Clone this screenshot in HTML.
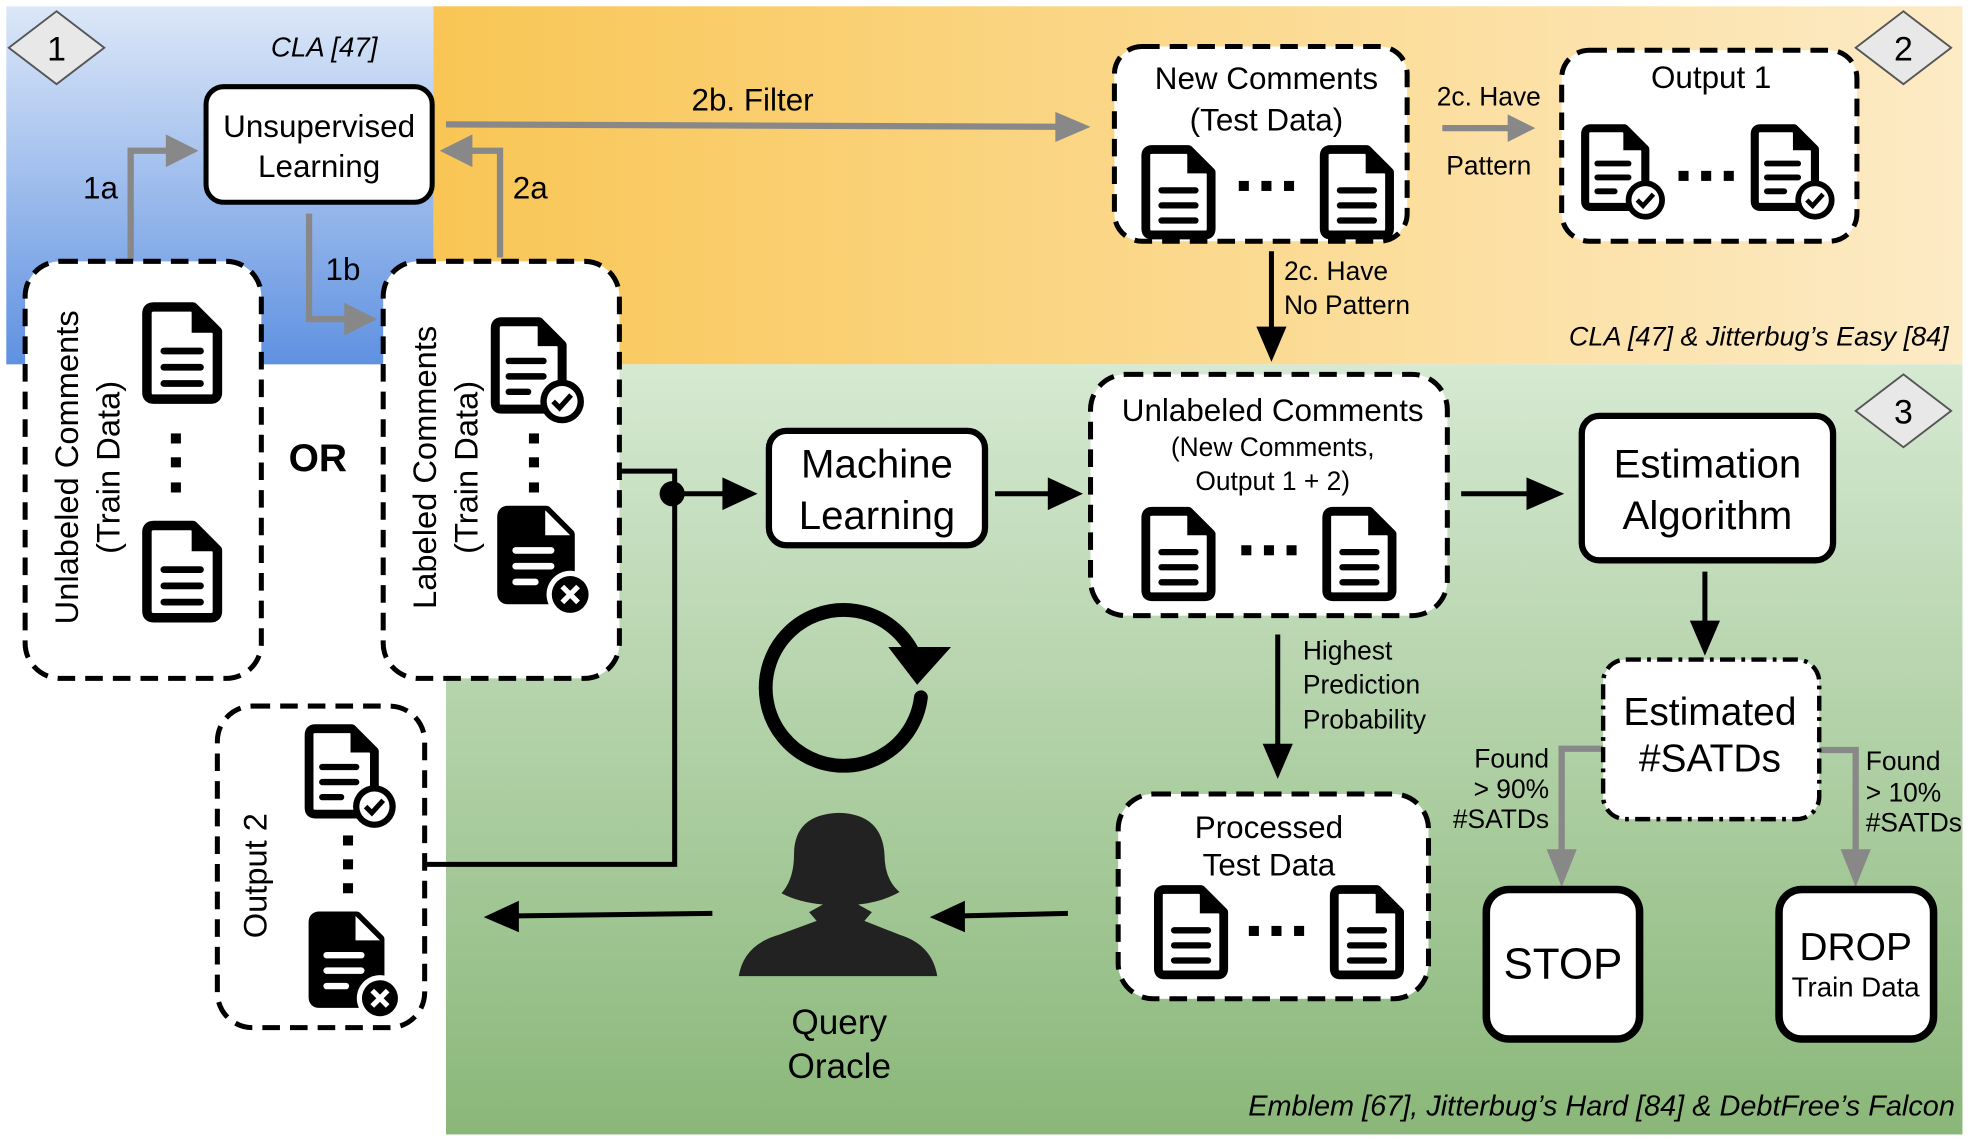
<!DOCTYPE html>
<html><head><meta charset="utf-8"><style>
html,body{margin:0;padding:0;background:#fff;}
svg{display:block;}
text{font-family:"Liberation Sans",sans-serif;}
</style></head><body>
<svg width="1970" height="1142" viewBox="0 0 1568 909" preserveAspectRatio="none" xmlns="http://www.w3.org/2000/svg">
<defs>
<linearGradient id="gb" x1="0" y1="0" x2="0" y2="1"><stop offset="0" stop-color="#dce7f8"/><stop offset="1" stop-color="#5f91e1"/></linearGradient>
<linearGradient id="go" x1="0" y1="0" x2="1" y2="0"><stop offset="0" stop-color="#f9c655"/><stop offset="1" stop-color="#fdebc6"/></linearGradient>
<linearGradient id="gg" x1="0" y1="0" x2="0" y2="1"><stop offset="0" stop-color="#d6e9d2"/><stop offset="1" stop-color="#8ab779"/></linearGradient>
<symbol id="doc" viewBox="0 0 60 76">
<path d="M9,4 H38 L56,22 V67 Q56,72 51,72 H9 Q4,72 4,67 V9 Q4,4 9,4 Z" fill="#fff" stroke="#000" stroke-width="7" stroke-linejoin="round"/>
<path d="M37,4 L56,23 H37 Z" fill="#000"/>
<rect x="14" y="34" width="32" height="5" rx="2.5"/><rect x="14" y="46" width="32" height="5" rx="2.5"/><rect x="14" y="58" width="32" height="5" rx="2.5"/>
</symbol>
<symbol id="cdoc" viewBox="0 0 76 86">
<path d="M9,4 H38 L56,22 V67 Q56,72 51,72 H9 Q4,72 4,67 V9 Q4,4 9,4 Z" fill="#fff" stroke="#000" stroke-width="7" stroke-linejoin="round"/>
<path d="M37,4 L56,23 H37 Z" fill="#000"/>
<rect x="12" y="32" width="32" height="5" rx="2.5"/><rect x="12" y="44" width="32" height="5" rx="2.5"/><rect x="12" y="56" width="20" height="5" rx="2.5"/>
<circle cx="56" cy="66" r="17" fill="#000"/><circle cx="56" cy="66" r="12" fill="#fff"/>
<path d="M49,66 L54,71 L63,61" fill="none" stroke="#000" stroke-width="4"/>
</symbol>
<symbol id="xdoc" viewBox="0 0 76 86">
<path d="M9,4 H38 L56,22 V67 Q56,72 51,72 H9 Q4,72 4,67 V9 Q4,4 9,4 Z" fill="#000" stroke="#000" stroke-width="7" stroke-linejoin="round"/>
<path d="M37,4 L56,23 H37 Z" fill="#fff"/>
<rect x="12" y="32" width="32" height="5" rx="2.5" fill="#fff"/><rect x="12" y="44" width="32" height="5" rx="2.5" fill="#fff"/><rect x="12" y="56" width="20" height="5" rx="2.5" fill="#fff"/>
<circle cx="56" cy="68" r="18" fill="#fff"/><circle cx="56" cy="68" r="14" fill="#000"/>
<path d="M50,62 L62,74 M62,62 L50,74" stroke="#fff" stroke-width="4"/>
</symbol>
</defs>

<rect x="5" y="5" width="340" height="285" fill="url(#gb)"/>
<rect x="345" y="5" width="1217" height="285" fill="url(#go)"/>
<rect x="355" y="290" width="1207" height="613" fill="url(#gg)"/>

<g fill="#e8e8e8" stroke="#555" stroke-width="1.5">
<path d="M45,9 L83,38 L45,67 L7,38 Z"/>
<path d="M1515,9 L1553,38 L1515,67 L1477,38 Z"/>
<path d="M1515,298 L1553,327 L1515,356 L1477,327 Z"/>
</g>
<g font-size="27" text-anchor="middle" fill="#000">
<text x="45" y="48">1</text><text x="1515" y="48">2</text><text x="1515" y="337">3</text>
</g>

<text x="258" y="45" font-size="22" font-style="italic" text-anchor="middle">CLA [47]</text>
<text x="1551" y="275" font-size="21.5" font-style="italic" text-anchor="end">CLA [47] &amp; Jitterbug’s Easy [84]</text>
<text x="1556" y="888" font-size="23" font-style="italic" text-anchor="end">Emblem [67], Jitterbug’s Hard [84] &amp; DebtFree’s Falcon</text>

<g stroke="#888" stroke-width="5" fill="none">
<path d="M104,207 V120 H150"/>
<path d="M246,170 V254 H292"/>
<path d="M398,205 V120 H358"/>
<path d="M355,99 L858,101"/>
<path d="M1148,102 H1212"/>
<path d="M1280,596 H1243 V695"/>
<path d="M1448,597 H1477 V695"/>
</g>
<g fill="#888">
<path d="M158,120 L132,107 L132,133 Z"/>
<path d="M300,254 L274,241 L274,267 Z"/>
<path d="M350,120 L376,107 L376,133 Z"/>
<path d="M868,101 L840,89 L840,113 Z"/>
<path d="M1222,102 L1200,91 L1200,113 Z"/>
<path d="M1243,706 L1231,676 L1255,676 Z"/>
<path d="M1477,706 L1465,676 L1489,676 Z"/>
</g>
<g font-size="25" text-anchor="middle">
<text x="80" y="158">1a</text><text x="273" y="223">1b</text><text x="422" y="158">2a</text>
<text x="599" y="88">2b. Filter</text>
</g>
<g font-size="21" text-anchor="middle"><text x="1185" y="84">2c. Have</text><text x="1185" y="139">Pattern</text></g>

<g stroke="#000" stroke-width="4" fill="none">
<path d="M1012,200 V262"/>
<path d="M493,375 H537 V688 H338"/>
<path d="M537,393 H578"/>
<path d="M792,393 H836"/>
<path d="M1163,393 H1218"/>
<path d="M1357,455 V496"/>
<path d="M1017,505 V594"/>
<path d="M850,727 L766,729"/>
<path d="M567,727 L412,729"/>
</g>
<g fill="#000">
<circle cx="535" cy="393" r="10"/>
<path d="M1012,288 L1000,260 L1024,260 Z"/>
<path d="M603,393 L575,380 L575,406 Z"/>
<path d="M862,393 L834,380 L834,406 Z"/>
<path d="M1245,393 L1215,380 L1215,406 Z"/>
<path d="M1357,522 L1345,494 L1369,494 Z"/>
<path d="M1017,620 L1005,592 L1029,592 Z"/>
<path d="M740,730 L768,717 L768,742 Z"/>
<path d="M385,730 L413,717 L413,742 Z"/>
</g>
<g font-size="21"><text x="1022" y="223">2c. Have</text><text x="1022" y="250">No Pattern</text>
<text x="1037" y="525">Highest</text><text x="1037" y="552">Prediction</text><text x="1037" y="580">Probability</text>
<text x="1485" y="613">Found</text><text x="1485" y="638">&gt; 10%</text><text x="1485" y="662">#SATDs</text>
</g>
<g font-size="21" text-anchor="end"><text x="1233" y="611">Found</text><text x="1233" y="635">&gt; 90%</text><text x="1233" y="659">#SATDs</text></g>

<g fill="#fff" stroke="#000">
<rect x="164" y="69" width="180" height="92" rx="14" stroke-width="4"/>
<rect x="612" y="343" width="172" height="91" rx="14" stroke-width="5"/>
<rect x="1259" y="331" width="200" height="115" rx="14" stroke-width="5"/>
<rect x="1183" y="708" width="122" height="119" rx="18" stroke-width="6"/>
<rect x="1416" y="708" width="123" height="119" rx="18" stroke-width="6"/>
</g>
<g fill="#fff" stroke="#000" stroke-width="4" stroke-dasharray="14,8">
<rect x="887" y="37" width="233" height="155" rx="22"/>
<rect x="1243" y="40" width="235" height="152" rx="22"/>
<rect x="20" y="208" width="188" height="332" rx="28"/>
<rect x="305" y="208" width="188" height="332" rx="28"/>
<rect x="173" y="562" width="165" height="256" rx="28"/>
<rect x="868" y="298" width="284" height="192" rx="28"/>
<rect x="890" y="632" width="247" height="163" rx="28"/>
</g>
<rect x="1276" y="525" width="172" height="127" rx="18" fill="#fff" stroke="#000" stroke-width="3.5" stroke-dasharray="12,5,3,5"/>

<g font-size="25" text-anchor="middle">
<text x="254" y="109">Unsupervised</text><text x="254" y="141">Learning</text>
<text x="1008" y="71">New Comments</text><text x="1008" y="104">(Test Data)</text>
<text x="1362" y="70">Output 1</text>
<text x="1013" y="335">Unlabeled Comments</text>
<text x="1010" y="667">Processed</text><text x="1010" y="697">Test Data</text>
</g>
<g font-size="21" text-anchor="middle"><text x="1013" y="363">(New Comments,</text><text x="1013" y="390">Output 1 + 2)</text></g>
<g font-size="32" text-anchor="middle">
<text x="698" y="380">Machine</text><text x="698" y="421">Learning</text>
<text x="1359" y="380">Estimation</text><text x="1359" y="421">Algorithm</text>
</g>
<g font-size="31" text-anchor="middle"><text x="1361" y="577">Estimated</text><text x="1361" y="614">#SATDs</text>
<text x="1244" y="779" font-size="35">STOP</text><text x="1477" y="764">DROP</text></g>
<text x="1477" y="793" font-size="22" text-anchor="middle">Train Data</text>
<text x="253" y="375" font-size="31" font-weight="bold" text-anchor="middle">OR</text>
<g font-size="28" text-anchor="middle"><text x="668" y="823">Query</text><text x="668" y="858">Oracle</text></g>

<g font-size="26" text-anchor="middle">
<text transform="translate(62,372) rotate(-90)">Unlabeled Comments</text>
<text transform="translate(95,372) rotate(-90)">(Train Data)</text>
<text transform="translate(347,372) rotate(-90)">Labeled Comments</text>
<text transform="translate(380,372) rotate(-90)">(Train Data)</text>
<text transform="translate(212,697) rotate(-90)">Output 2</text>
</g>

<use href="#doc" x="908" y="115" width="60" height="76"/>
<use href="#doc" x="1050" y="115" width="60" height="76"/>
<use href="#doc" x="908" y="403" width="60" height="76"/>
<use href="#doc" x="1052" y="403" width="60" height="76"/>
<use href="#doc" x="918" y="704" width="60" height="76"/>
<use href="#doc" x="1058" y="704" width="60" height="76"/>
<use href="#doc" x="112" y="240" width="66" height="82"/>
<use href="#doc" x="112" y="414" width="66" height="82"/>
<use href="#cdoc" x="1258" y="98" width="70" height="80"/>
<use href="#cdoc" x="1393" y="98" width="70" height="80"/>
<use href="#cdoc" x="390" y="252" width="78" height="88"/>
<use href="#xdoc" x="395" y="402" width="80" height="90"/>
<use href="#cdoc" x="242" y="576" width="76" height="86"/>
<use href="#xdoc" x="245" y="725" width="78" height="88"/>
<g fill="#000">
<rect x="986" y="144" width="8" height="8"/><rect x="1004" y="144" width="8" height="8"/><rect x="1022" y="144" width="8" height="8"/>
<rect x="1336" y="136" width="8" height="8"/><rect x="1354" y="136" width="8" height="8"/><rect x="1372" y="136" width="8" height="8"/>
<rect x="988" y="434" width="8" height="8"/><rect x="1006" y="434" width="8" height="8"/><rect x="1024" y="434" width="8" height="8"/>
<rect x="994" y="737" width="8" height="8"/><rect x="1012" y="737" width="8" height="8"/><rect x="1030" y="737" width="8" height="8"/>
<rect x="136" y="345" width="8" height="8"/><rect x="136" y="364" width="8" height="8"/><rect x="136" y="384" width="8" height="8"/>
<rect x="421" y="345" width="8" height="8"/><rect x="421" y="364" width="8" height="8"/><rect x="421" y="384" width="8" height="8"/>
<rect x="273" y="665" width="8" height="8"/><rect x="273" y="684" width="8" height="8"/><rect x="273" y="703" width="8" height="8"/>
</g>

<path d="M733,555 A62,62 0 1 1 727,520" fill="none" stroke="#000" stroke-width="11" stroke-linecap="round"/>
<path d="M707,515 L757,515 L730,545 Z" fill="#000"/>

<path d="M588,777 Q592,752 620,744 L650,733 L644,726 L655,720 Q635,718 622,711 Q632,700 632,680 Q632,648 668,647 Q702,648 704,680 Q704,700 716,710 Q702,718 683,720 L694,726 L688,733 L716,744 Q742,752 746,777 Z" fill="#222"/>
</svg>
</body></html>
